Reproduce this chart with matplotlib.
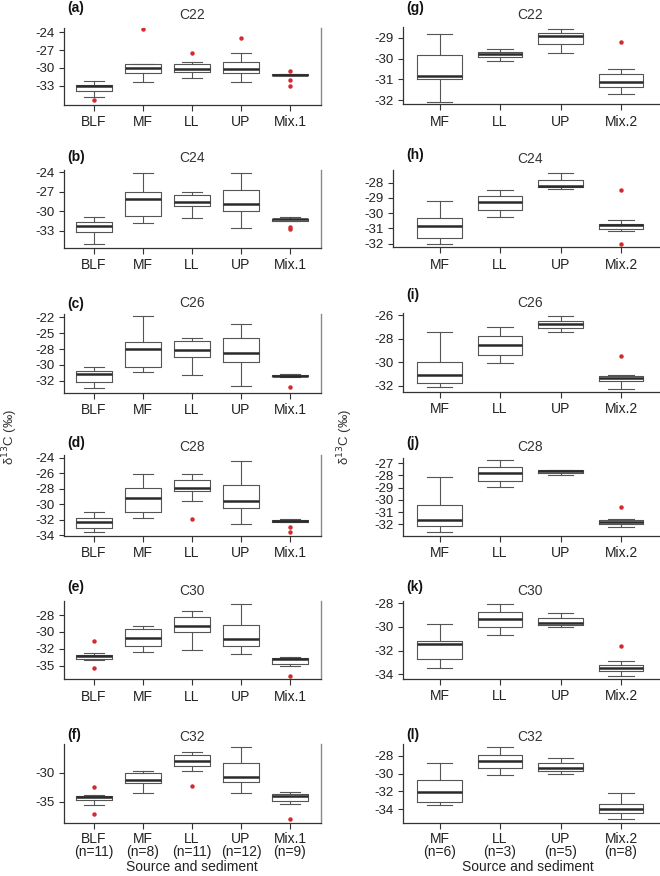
import matplotlib
matplotlib.use("Agg")
import matplotlib.pyplot as plt

plt.rcParams['font.family'] = ['Liberation Sans', 'DejaVu Sans']

W, H = 660, 876

left_groups = ["BLF", "MF", "LL", "UP", "Mix.1"]
right_groups = ["MF", "LL", "UP", "Mix.2"]
left_n = [11, 8, 11, 12, 9]
right_n = [6, 3, 5, 8]

# box stats per group: (whisker low, q1, median, q3, whisker high), outliers
a_box = [(-34.8, -33.8, -33.0, -32.8, -32.2), (-32.3, -30.8, -30.0, -29.4, -29.3),
         (-31.7, -30.6, -30.2, -29.4, -29.0), (-32.3, -30.8, -30.2, -29.0, -27.5),
         (-31.2, -31.15, -31.1, -31.0, -30.95)]
a_out = [[-35.3], [-23.5], [-27.5], [-24.9], [-30.5, -32.0, -33.0]]

b_box = [(-35.04, -33.2, -32.18, -31.57, -30.9), (-31.82, -30.65, -28.1, -26.97, -24.15),
         (-31.05, -29.2, -28.5, -27.48, -26.97), (-32.6, -29.93, -28.9, -26.76, -24.15),
         (-31.46, -31.46, -31.2, -31.1, -30.8)]
b_out = [[], [], [], [], [-32.33, -32.74]]

c_box = [(-33.22, -32.26, -30.89, -30.41, -29.88), (-30.57, -29.78, -26.97, -25.92, -21.84),
         (-31.1, -28.19, -27.13, -25.76, -25.33), (-32.85, -29.04, -27.61, -25.33, -23.0),
         (-31.37, -31.3, -31.2, -31.05, -31.0)]
c_out = [[], [], [], [], [-32.95]]

d_box = [(-33.66, -33.09, -32.32, -31.8, -30.98), (-31.8, -31.07, -29.22, -27.97, -26.07),
         (-29.6, -28.31, -27.88, -26.84, -26.07), (-32.62, -30.55, -29.6, -27.49, -24.39),
         (-32.35, -32.3, -32.23, -32.1, -31.93)]
d_out = [[], [], [-31.89], [], [-33.0, -33.6]]

e_box = [(-34.67, -34.47, -34.08, -33.83, -33.64), (-33.49, -32.5, -31.43, -30.01, -29.57),
         (-33.15, -30.45, -29.62, -28.25, -27.36), (-33.78, -32.5, -31.53, -29.52, -26.43),
         (-35.45, -35.16, -34.52, -34.37, -34.18)]
e_out = [[-31.87, -35.84], [], [], [], [-36.92]]

f_box = [(-35.52, -34.66, -34.25, -33.97, -33.79), (-33.56, -31.78, -31.26, -30.0, -29.71),
         (-29.66, -28.79, -27.93, -26.9, -26.49), (-33.56, -31.61, -30.69, -28.28, -25.63),
         (-35.46, -34.83, -34.02, -33.62, -33.28)]
f_out = [[-32.53, -37.07], [], [-32.3], [], [-37.93]]

g_box = [(-32.1, -31.0, -30.85, -29.83, -28.8), (-30.13, -29.95, -29.8, -29.67, -29.55),
         (-29.75, -29.32, -28.9, -28.76, -28.6), (-31.7, -31.35, -31.15, -30.75, -30.5)]
g_out = [[], [], [], [-29.2]]

h_box = [(-32.04, -31.63, -30.84, -30.34, -29.22), (-30.27, -29.81, -29.29, -28.87, -28.46),
         (-28.42, -28.28, -28.24, -27.8, -27.39), (-31.15, -31.06, -30.78, -30.71, -30.47)]
h_out = [[], [], [], [-28.5, -32.0]]

i_box = [(-32.09, -31.75, -31.07, -29.99, -27.44), (-30.02, -29.34, -28.52, -27.81, -27.05),
         (-27.42, -27.1, -26.74, -26.54, -26.11), (-32.23, -31.58, -31.29, -31.12, -31.07)]
i_out = [[], [], [], [-29.45]]

j_box = [(-32.66, -32.14, -31.64, -30.42, -28.15), (-28.99, -28.45, -27.82, -27.36, -26.78),
         (-28.01, -27.82, -27.68, -27.6, -27.6), (-32.22, -31.97, -31.78, -31.62, -31.54)]
j_out = [[], [], [], [-30.58]]

k_box = [(-33.47, -32.71, -31.45, -31.2, -29.74), (-30.66, -30.05, -29.35, -28.79, -28.08),
         (-30.05, -29.85, -29.65, -29.29, -28.84), (-34.14, -33.75, -33.5, -33.19, -32.91)]
k_out = [[], [], [], [-31.62]]

l_box = [(-33.52, -33.18, -32.03, -30.72, -28.78), (-30.16, -29.42, -28.63, -27.89, -27.07),
         (-30.01, -29.75, -29.42, -28.86, -28.22), (-35.12, -34.45, -33.93, -33.44, -32.17)]
l_out = [[], [], [], []]

# y tick positions and the labels printed on them
a_ticks, a_labels = [-24, -27, -30, -33], ["-24", "-27", "-30", "-33"]
b_ticks, b_labels = [-24, -27, -30, -33], ["-24", "-27", "-30", "-33"]
c_ticks, c_labels = [-22, -24.5, -27, -29.5, -32], ["-22", "-25", "-28", "-30", "-32"]
d_ticks, d_labels = [-24, -26, -28, -30, -32, -34], ["-24", "-26", "-28", "-30", "-32", "-34"]
e_ticks, e_labels = [-28, -30.5, -33, -35.5], ["-28", "-30", "-32", "-35"]
f_ticks, f_labels = [-30, -35], ["-30", "-35"]
g_ticks, g_labels = [-29, -30, -31, -32], ["-29", "-30", "-31", "-32"]
h_ticks, h_labels = [-28, -29, -30, -31, -32], ["-28", "-29", "-30", "-31", "-32"]
i_ticks, i_labels = [-26, -28, -30, -32], ["-26", "-28", "-30", "-32"]
j_ticks, j_labels = [-27, -28, -29, -30, -31, -32], ["-27", "-28", "-29", "-30", "-31", "-32"]
k_ticks, k_labels = [-28, -30, -32, -34], ["-28", "-30", "-32", "-34"]
l_ticks, l_labels = [-28, -30, -32, -34], ["-28", "-30", "-32", "-34"]

BOX_COL = "#555555"
RED = "#d42a2f"

# panel: letter, title, boxes, outliers, ticks, labels, ylim, column, (left, top, bottom) px, title_y, letter_y
panels = [
    ("(a)", "C22", a_box, a_out, a_ticks, a_labels, (-36.2, -23.3), 0, (64, 28, 105), 15, 8),
    ("(b)", "C24", b_box, b_out, b_ticks, b_labels, (-35.56, -23.65), 0, (64, 170, 247.7), 158, 157),
    ("(c)", "C26", c_box, c_out, c_ticks, c_labels, (-33.9, -21.47), 0, (64, 314, 392.7), 303, 304),
    ("(d)", "C28", d_box, d_out, d_ticks, d_labels, (-34.09, -23.66), 0, (64, 455, 535.7), 447, 443),
    ("(e)", "C30", e_box, e_out, e_ticks, e_labels, (-37.46, -25.94), 0, (64, 601, 679.3), 591, 587),
    ("(f)", "C32", f_box, f_out, f_ticks, f_labels, (-38.74, -25.06), 0, (64, 744, 823.3), 737, 735),
    ("(g)", "C22", g_box, g_out, g_ticks, g_labels, (-32.2, -28.47), 1, (402.7, 26.7, 104.3), 15, 8),
    ("(h)", "C24", h_box, h_out, h_ticks, h_labels, (-32.24, -27.17), 1, (392.7, 170, 247.3), 159, 155),
    ("(i)", "C26", i_box, i_out, i_ticks, i_labels, (-32.51, -25.83), 1, (402.7, 313, 392), 303, 295),
    ("(j)", "C28", j_box, j_out, j_ticks, j_labels, (-32.93, -26.59), 1, (402.7, 458, 535.7), 447, 443),
    ("(k)", "C30", k_box, k_out, k_ticks, k_labels, (-34.39, -27.8), 1, (402.7, 600.7, 679), 591, 587),
    ("(l)", "C32", l_box, l_out, l_ticks, l_labels, (-35.57, -26.7), 1, (402.7, 744, 823.3), 737, 735),
]

fig = plt.figure(figsize=(W / 100, H / 100), dpi=100)

for idx, (letter, title, boxes, outs, ticks, tlabels, ylim, col, (lpx, tpx, bpx), ty, ly) in enumerate(panels):
    if col == 0:
        groups, ns = left_groups, left_n
        first_px, step, rpx = 94, 49, 321
    else:
        groups, ns = right_groups, right_n
        first_px, step, rpx = 439.5, 60.5, 660
    ax = fig.add_axes([lpx / W, 1 - bpx / H, (rpx - lpx) / W, (bpx - tpx) / H])
    stats = []
    for (lo, q1, med, q3, hi), fl in zip(boxes, outs):
        stats.append(dict(whislo=lo, q1=q1, med=med, q3=q3, whishi=hi, fliers=fl))
    pos = list(range(1, len(stats) + 1))
    ax.bxp(stats, positions=pos, widths=0.74, capwidths=0.42, showfliers=True,
           boxprops=dict(color=BOX_COL, lw=0.8),
           whiskerprops=dict(color=BOX_COL, lw=0.8),
           capprops=dict(color=BOX_COL, lw=0.8),
           medianprops=dict(color="#2a2a2a", lw=1.8, solid_capstyle="butt"),
           flierprops=dict(marker="o", markersize=2.2, markerfacecolor=RED,
                           markeredgecolor=RED, linestyle="none"))
    ax.set_xlim(1 - (first_px - lpx) / step, len(stats) + (rpx - first_px - (len(stats) - 1) * step) / step)
    ax.set_ylim(*ylim)
    ax.set_yticks(ticks)
    ax.set_yticklabels(tlabels)
    ax.set_xticks(pos)
    if idx in (5, 11):
        ax.set_xticklabels([f"{g}\n(n={n})" for g, n in zip(groups, ns)], linespacing=0.85)
        xpad = 2
    else:
        ax.set_xticklabels(groups)
        xpad = 3
    ax.tick_params(axis="y", length=3.5, width=0.8, pad=3, labelsize=9.5, color="#333333", labelcolor="#222222")
    ax.tick_params(axis="x", length=4.5, width=0.8, pad=xpad, labelsize=10, color="#333333", labelcolor="#222222")
    ax.spines["top"].set_visible(False)
    ax.spines["left"].set_linewidth(0.9)
    ax.spines["bottom"].set_linewidth(0.9)
    ax.spines["left"].set_color("#333333")
    ax.spines["bottom"].set_color("#333333")
    if col == 0:
        ax.spines["right"].set_color("#8a8a8a")
        ax.spines["right"].set_linewidth(1.0)
    else:
        ax.spines["right"].set_visible(False)
    ax.patch.set_alpha(0)
    cx = (lpx + rpx) / 2 if col == 0 else 530
    fig.text(cx / W, 1 - ty / H, title, ha="center", va="center", fontsize=10, color="#333333")
    lx = 67 if col == 0 else 406
    fig.text(lx / W, 1 - ly / H, letter, ha="left", va="center", fontsize=10, fontweight="bold", color="#111111")

ylab = "δ$^{13}$C (‰)"
fig.text(10 / W, 1 - 437 / H, ylab, rotation=90, ha="center", va="center", fontsize=9.5, color="#333333")
fig.text(345 / W, 1 - 437 / H, ylab, rotation=90, ha="center", va="center", fontsize=9.5, color="#333333")
fig.text(192 / W, 1 - 867 / H, "Source and sediment", ha="center", va="center", fontsize=10, color="#222222")
fig.text(528 / W, 1 - 867 / H, "Source and sediment", ha="center", va="center", fontsize=10, color="#222222")

fig.savefig("out.png", dpi=100)
